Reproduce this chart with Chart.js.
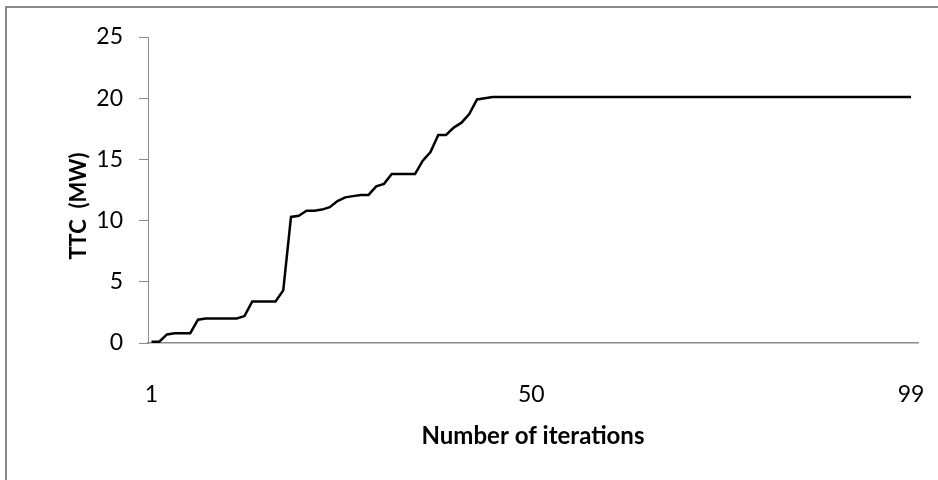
<!DOCTYPE html>
<html lang="en">
<head>
<meta charset="UTF-8">
<title>TTC vs number of iterations</title>
<script src="https://cdn.jsdelivr.net/npm/chart.js@4.4.1/dist/chart.umd.min.js"></script>
<style>
    body { margin: 0; background: #fff; }
    #wrap { position: relative; width: 938px; height: 480px; overflow: hidden; }
    #frame { position: absolute; left: 5px; top: 6px; width: 1200px; height: 800px;
             border-left: 2px solid #8a8a8a; border-top: 2px solid #8a8a8a; }
    canvas { position: absolute; left: 0; top: 0; }
</style>
</head>
<body>
<div id="wrap">
    <div id="frame"></div>
    <canvas id="ttcChart" width="938" height="480"></canvas>
</div>

<script>
    // iteration numbers (x) and TTC values in MW (y)
    const iterations = Array.from({ length: 99 }, (_, i) => i + 1);
    const ttc = [
        0.1, 0.1, 0.7, 0.8, 0.8, 0.8, 1.9, 2.0, 2.0, 2.0,
        2.0, 2.0, 2.2, 3.4, 3.4, 3.4, 3.4, 4.3, 10.3, 10.4,
        10.8, 10.8, 10.9, 11.1, 11.6, 11.9, 12.0, 12.1, 12.1, 12.8,
        13.0, 13.8, 13.8, 13.8, 13.8, 14.9, 15.6, 17.0, 17.0, 17.6,
        18.0, 18.7, 19.9, 20.0, 20.1,
        20.1, 20.1, 20.1, 20.1, 20.1, 20.1, 20.1, 20.1, 20.1, 20.1,
        20.1, 20.1, 20.1, 20.1, 20.1, 20.1, 20.1, 20.1, 20.1, 20.1,
        20.1, 20.1, 20.1, 20.1, 20.1, 20.1, 20.1, 20.1, 20.1, 20.1,
        20.1, 20.1, 20.1, 20.1, 20.1, 20.1, 20.1, 20.1, 20.1, 20.1,
        20.1, 20.1, 20.1, 20.1, 20.1, 20.1, 20.1, 20.1, 20.1, 20.1,
        20.1, 20.1, 20.1, 20.1
    ];
    const xTickLabels = [1, 50, 99];
    const yTickLabels = [0, 5, 10, 15, 20, 25];

    const axisGray = '#8a8a8a';
    const nb = '\u00a0';

    const ctx = document.getElementById('ttcChart').getContext('2d');
    const chart = new Chart(ctx, {
        type: 'line',
        data: {
            datasets: [{
                label: 'TTC',
                data: iterations.map((it, i) => ({ x: it, y: ttc[i] })),
                borderColor: '#000',
                borderWidth: 2.5,
                pointRadius: 0,
                tension: 0,
                fill: false
            }]
        },
        options: {
            responsive: false,
            animation: false,
            layout: { padding: { left: 66, top: 37, right: 20, bottom: 29 } },
            plugins: {
                legend: { display: false },
                tooltip: { enabled: false }
            },
            scales: {
                x: {
                    type: 'linear',
                    min: 0.55,
                    max: 99.9,
                    afterBuildTicks: s => { s.ticks = xTickLabels.map(v => ({ value: v })); },
                    afterFit: s => {
                        s.height = 108;
                        s.paddingLeft = 0;
                        s.paddingRight = 0;
                    },
                    grid: { display: false, drawTicks: false },
                    border: { color: axisGray, width: 1.5 },
                    ticks: { padding: 38, color: '#000', font: { family: 'Lato', size: 23 }, maxRotation: 0 },
                    title: {
                        display: true,
                        text: 'Number of iterations',
                        color: '#000',
                        padding: 0,
                        font: { family: 'Lato', size: 24, weight: 'bold' }
                    }
                },
                y: {
                    min: 0,
                    max: 25,
                    afterBuildTicks: s => { s.ticks = yTickLabels.map(v => ({ value: v })); },
                    afterFit: s => { s.width = 148 - 66; },
                    grid: { drawOnChartArea: false, drawTicks: true, tickLength: 9, color: axisGray },
                    border: { color: axisGray, width: 1 },
                    ticks: { padding: 16, color: '#000', font: { family: 'Lato', size: 23 } },
                    title: {
                        display: true,
                        text: 'TTC' + nb + nb + '(MW)' + nb.repeat(6),
                        color: '#000',
                        padding: 0,
                        font: { family: 'Lato', size: 22, weight: 'bold' }
                    }
                }
            }
        }
    });
</script>
</body>
</html>
